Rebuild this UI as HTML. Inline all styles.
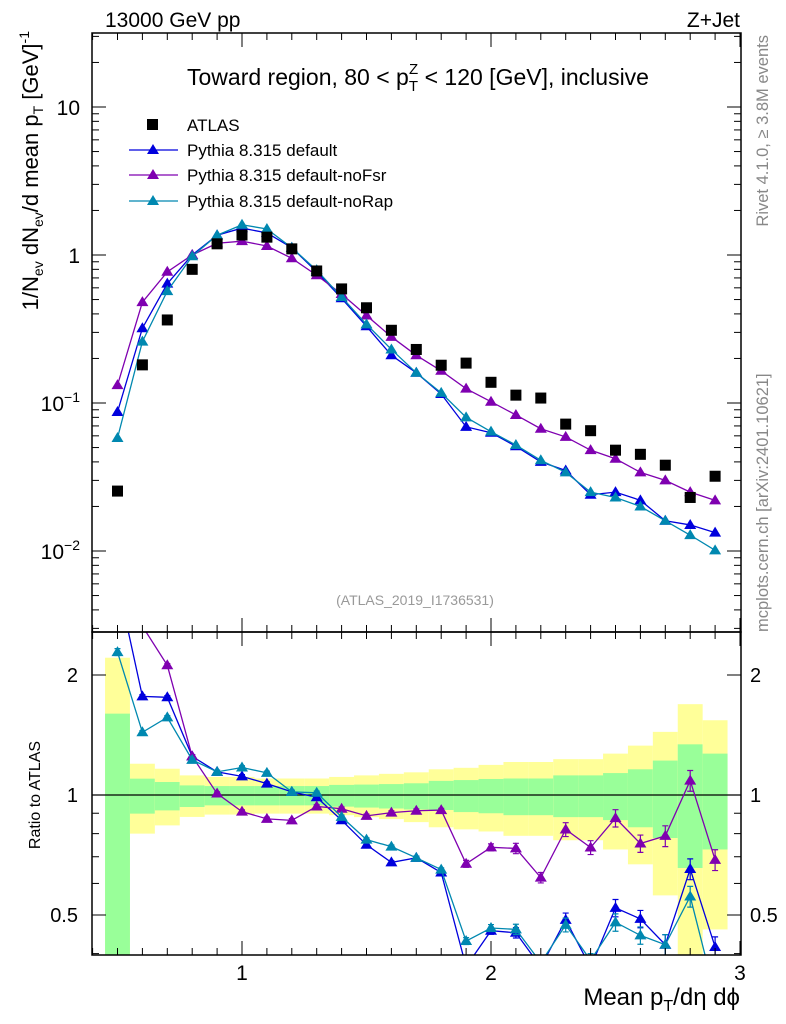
<!DOCTYPE html>
<html><head><meta charset="utf-8"><style>
body{margin:0;background:#fff;}
svg{display:block;font-family:"Liberation Sans",sans-serif;}
</style></head><body>
<svg id="c" width="786" height="1024" viewBox="0 0 786 1024" xmlns="http://www.w3.org/2000/svg">
<defs>
<clipPath id="cm"><rect x="92" y="33" width="649" height="599"/></clipPath>
<clipPath id="cr"><rect x="92" y="632" width="649" height="323"/></clipPath>
</defs>
<g id="bands" clip-path="url(#cr)"></g>
<g id="marks"></g>
<g id="axes"></g>
<text x="105" y="27" font-size="21">13000 GeV pp</text>
<text x="740" y="27" font-size="21" text-anchor="end">Z+Jet</text>
<text x="418" y="85" font-size="23" text-anchor="middle">Toward region, 80 &lt; p<tspan font-size="15" dy="6">T</tspan><tspan font-size="15" dx="-9" dy="-17">Z</tspan><tspan dy="11"> &lt; 120 [GeV], inclusive</tspan></text>
<text x="415" y="605" font-size="14" fill="#999" text-anchor="middle">(ATLAS_2019_I1736531)</text>
<text transform="translate(768,35) rotate(-90)" font-size="16.5" fill="#888" text-anchor="end">Rivet 4.1.0, ≥ 3.8M events</text>
<text transform="translate(768,632) rotate(-90)" font-size="16.5" fill="#888">mcplots.cern.ch [arXiv:2401.10621]</text>
<text transform="translate(38,31) rotate(-90)" font-size="22" text-anchor="end">1/N<tspan font-size="14" dy="5">ev</tspan><tspan dy="-5"> dN</tspan><tspan font-size="14" dy="5">ev</tspan><tspan dy="-5">/d mean p</tspan><tspan font-size="14" dy="5">T</tspan><tspan dy="-5"> [GeV]</tspan><tspan font-size="14" dy="-9">-1</tspan></text>
<text transform="translate(40,795) rotate(-90)" font-size="16" text-anchor="middle">Ratio to ATLAS</text>
<text x="740" y="1005" font-size="24" text-anchor="end">Mean p<tspan font-size="16" dy="6">T</tspan><tspan dy="-6">/dη dϕ</tspan></text>
<g>
<rect x="147" y="119" width="11" height="11" fill="#000"/>
<text x="187" y="131" font-size="17">ATLAS</text>
<line x1="129" y1="150" x2="178" y2="150" stroke="#0000dd" stroke-width="1.3"/>
<polygon points="153,144 159,154 147,154" fill="#0000dd"/>
<text x="187" y="156" font-size="17">Pythia 8.315 default</text>
<line x1="129" y1="175" x2="178" y2="175" stroke="#7f00b0" stroke-width="1.3"/>
<polygon points="153,169 159,179 147,179" fill="#7f00b0"/>
<text x="187" y="181" font-size="17">Pythia 8.315 default-noFsr</text>
<line x1="129" y1="201" x2="178" y2="201" stroke="#0088b0" stroke-width="1.3"/>
<polygon points="153,195 159,205 147,205" fill="#0088b0"/>
<text x="187" y="207" font-size="17">Pythia 8.315 default-noRap</text>
</g>
</svg>
<script>
const xs=[0.5,0.6,0.7,0.8,0.9,1.0,1.1,1.2,1.3,1.4,1.5,1.6,1.7,1.8,1.9,2.0,2.1,2.2,2.3,2.4,2.5,2.6,2.7,2.8,2.9];
const atlas=[0.0254,0.181,0.364,0.80,1.19,1.365,1.32,1.10,0.78,0.59,0.44,0.31,0.23,0.18,0.186,0.138,0.113,0.108,0.072,0.065,0.048,0.045,0.038,0.023,0.032];
const pyDefault=[0.087,0.32,0.64,1.0,1.36,1.52,1.41,1.12,0.77,0.51,0.33,0.21,0.16,0.115,0.069,0.063,0.051,0.040,0.035,0.024,0.025,0.022,0.016,0.015,0.0133];
const pyNoFsr=[0.132,0.48,0.77,1.0,1.2,1.24,1.15,0.95,0.73,0.545,0.39,0.28,0.21,0.165,0.125,0.102,0.083,0.067,0.059,0.048,0.042,0.034,0.030,0.025,0.022];
const pyNoRap=[0.058,0.26,0.57,0.98,1.36,1.6,1.5,1.12,0.79,0.52,0.34,0.23,0.16,0.117,0.08,0.064,0.052,0.041,0.034,0.025,0.023,0.020,0.016,0.0128,0.0101];
const relErr=[0.02,0.01,0.01,0.01,0.01,0.01,0.01,0.01,0.01,0.01,0.01,0.01,0.01,0.01,0.02,0.02,0.03,0.03,0.04,0.04,0.05,0.05,0.06,0.06,0.06];
const greenUp=[1.60,1.099,1.078,1.057,1.053,1.053,1.053,1.053,1.053,1.06,1.062,1.065,1.07,1.085,1.09,1.097,1.10,1.10,1.12,1.12,1.135,1.16,1.22,1.34,1.27];
const greenLo=[0.30,0.898,0.915,0.933,0.942,0.942,0.942,0.942,0.942,0.935,0.93,0.925,0.92,0.917,0.906,0.90,0.89,0.89,0.88,0.88,0.865,0.83,0.78,0.656,0.73];
const yellowUp=[2.21,1.198,1.164,1.12,1.11,1.11,1.10,1.10,1.10,1.11,1.12,1.13,1.14,1.16,1.17,1.19,1.21,1.21,1.23,1.23,1.27,1.33,1.44,1.69,1.54];
const yellowLo=[0.30,0.80,0.839,0.881,0.893,0.893,0.898,0.898,0.898,0.89,0.88,0.87,0.855,0.83,0.82,0.81,0.79,0.79,0.77,0.77,0.73,0.67,0.56,0.30,0.46];
const mainTicks=["10^-2","10^-1","1","10"];
const ratioTicks=[0.5,1,2];
const xTicks=[1,2,3];

const NS="http://www.w3.org/2000/svg";
const X=v=>242+(v-1)*249;
const Y=v=>255-148*Math.log10(v);
const R=v=>795-398.6*Math.log10(v);
function mk(tag,attrs,parent){const e=document.createElementNS(NS,tag);for(const k in attrs)e.setAttribute(k,attrs[k]);parent.appendChild(e);return e;}
const bands=document.getElementById('bands');
const marks=document.getElementById('marks');
const axes=document.getElementById('axes');

xs.forEach((x,i)=>{
 const y=mk('rect',{x:X(x-0.05),y:R(yellowUp[i]),width:X(x+0.05)-X(x-0.05),height:R(yellowLo[i])-R(yellowUp[i]),fill:'#ffff99'},bands);
 
 
 const g=mk('rect',{x:X(x-0.05),y:R(greenUp[i]),width:X(x+0.05)-X(x-0.05),height:R(greenLo[i])-R(greenUp[i]),fill:'#99ff99'},bands);
 
 
});
const one=mk('line',{x1:92,x2:741,y1:R(1),y2:R(1),stroke:'#000','stroke-width':1.3},bands);



const series=[[pyDefault,'#0000dd','default'],[pyNoFsr,'#7f00b0','nofsr'],[pyNoRap,'#0088b0','norap']];
const gm=mk('g',{'clip-path':'url(#cm)'},marks);
const gr=mk('g',{'clip-path':'url(#cr)'},marks);
function tri(p,cx,cy,col){return mk('polygon',{points:`${cx},${cy-6} ${cx+6},${cy+4} ${cx-6},${cy+4}`,fill:col},p);}
series.forEach(([d,col,nm])=>{
 const l=mk('polyline',{points:xs.map((x,i)=>X(x)+','+Y(d[i])).join(' '),fill:'none',stroke:col,'stroke-width':1.3},gm);
 
 
 const rl=mk('polyline',{points:xs.map((x,i)=>X(x)+','+R(d[i]/atlas[i])).join(' '),fill:'none',stroke:col,'stroke-width':1.3},gr);
 
 
 xs.forEach((x,i)=>{
  const t=tri(gm,X(x),Y(d[i]),col);
  
  
  const r=d[i]/atlas[i];
  const e=mk('path',{d:`M${X(x)},${R(r*(1+relErr[i]))}V${R(r*(1-relErr[i]))}M${X(x)-3},${R(r*(1+relErr[i]))}h6M${X(x)-3},${R(r*(1-relErr[i]))}h6`,stroke:col,'stroke-width':1.2,fill:'none'},gr);
  
  
  const rt=tri(gr,X(x),R(r),col);
  
  
 });
});
xs.forEach((x,i)=>{
 const s=mk('rect',{x:X(x)-5.5,y:Y(atlas[i])-5.5,width:11,height:11,fill:'#000'},gm);
 
 
});

[[33,632],[632,955]].forEach(([t,b])=>{
 const f=mk('rect',{x:92,y:t,width:649,height:b-t,fill:'none',stroke:'#000','stroke-width':1.5},axes);
 
 
 for(let k=4;k<=30;k++){const v=k/10,px=X(v),len=(k%10===0)?14:7;
  mk('line',{x1:px,x2:px,y1:t,y2:t+len,stroke:'#000'},axes);
  mk('line',{x1:px,x2:px,y1:b,y2:b-len,stroke:'#000'},axes);}
});
xTicks.forEach(v=>{const t=mk('text',{x:X(v),y:980,'font-size':21,'text-anchor':'middle'},axes);t.textContent=v;
 
 });
for(let dec=-3;dec<=1;dec++)for(let m=1;m<=9;m++){const v=m*Math.pow(10,dec),py=Y(v);if(py<33||py>632)continue;const len=m===1?14:7;
 mk('line',{x1:92,x2:92+len,y1:py,y2:py,stroke:'#000'},axes);mk('line',{x1:741,x2:741-len,y1:py,y2:py,stroke:'#000'},axes);}
mainTicks.forEach(s=>{let v,t;
 if(s.indexOf('^')>0){const ex=+s.split('^')[1];v=Math.pow(10,ex);
  t=mk('text',{x:80,y:Y(v)+8,'font-size':21,'text-anchor':'end'},axes);
  t.innerHTML='10<tspan font-size="14" dy="-9">'+s.split('^')[1].replace('-','−')+'</tspan>';}
 else{v=+s;t=mk('text',{x:80,y:Y(v)+8,'font-size':21,'text-anchor':'end'},axes);t.textContent=s;}
 
 });
[0.4,0.5,0.6,0.7,0.8,0.9,1,2].forEach(v=>{const py=R(v),len=(v===0.5||v===1||v===2)?14:7;
 mk('line',{x1:92,x2:92+len,y1:py,y2:py,stroke:'#000'},axes);mk('line',{x1:741,x2:741-len,y1:py,y2:py,stroke:'#000'},axes);});
ratioTicks.forEach(v=>{
 const a=mk('text',{x:78,y:R(v)+7,'font-size':20,'text-anchor':'end'},axes);a.textContent=v;
 
 
 const b=mk('text',{x:750,y:R(v)+7,'font-size':20},axes);b.textContent=v;
 
 });
</script>
</body></html>
